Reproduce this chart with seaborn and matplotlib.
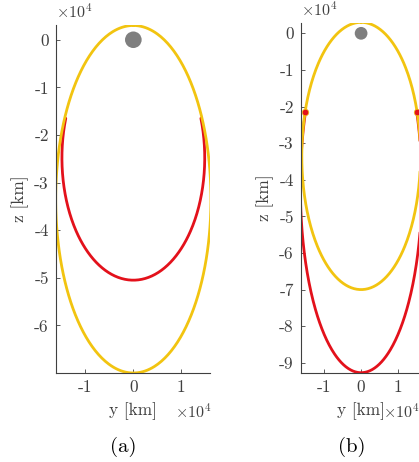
import numpy as np
import pandas as pd
import matplotlib
matplotlib.use("Agg")
import matplotlib.pyplot as plt
from matplotlib.patches import Circle
import seaborn as sns

# ---- data (units of 1e4 km) ----
# ellipse parameters: [centre_y, centre_z, semi_axis_y, semi_axis_z]
yellow_orbit = [0.0, -3.35, 1.62, 3.65]
red_arc_a = [0.0, -2.48, 1.49, 2.57]
red_arc_a_top = -1.65          # z where red arc (a) ends
red_arc_b = [0.0, -4.19, 1.66, 5.08]
red_arc_b_top = -2.15          # z where red arc (b) ends
red_dots_b_y = [-1.52, 1.52]
red_dots_b_z = [-2.15, -2.15]
moon_center = [0.0, 0.0]
moon_radius = 0.1737

xticks_a = [-1, 0, 1]
yticks_a = [0, -1, -2, -3, -4, -5, -6]
xticks_b = [-1, 0, 1]
yticks_b = [0, -1, -2, -3, -4, -5, -6, -7, -8, -9]
xlim_a = (-1.62, 1.60)
ylim_a = (-7.0, 0.31)
xlim_b = (-1.65, 1.65)
ylim_b = (-9.27, 0.29)

YELLOW = "#F2C410"
RED = "#E3111B"
GREY = "#7F7F7F"
TXT = "#404040"


def full_ellipse(p, n=400):
    t = np.linspace(0, 2 * np.pi, n)
    return pd.DataFrame({"y": p[0] + p[2] * np.sin(t), "z": p[1] + p[3] * np.cos(t)})


def lower_arc(p, ztop, n=400):
    t0 = np.arccos((p[1] - ztop) / p[3])
    t = np.linspace(-t0, t0, n)
    return pd.DataFrame({"y": p[0] + p[2] * np.sin(t), "z": p[1] - p[3] * np.cos(t)})


sns.set_theme(style="white")
plt.rcParams.update({
    "font.family": ["cmr10", "DejaVu Serif"],
    "mathtext.fontset": "cm",
    "axes.unicode_minus": False,
    "axes.formatter.use_mathtext": True,
    "xtick.direction": "in",
    "ytick.direction": "in",
    "xtick.major.size": 3,
    "ytick.major.size": 3,
    "xtick.major.width": 0.6,
    "ytick.major.width": 0.6,
    "xtick.color": TXT,
    "ytick.color": TXT,
    "axes.edgecolor": TXT,
    "axes.linewidth": 0.8,
    "xtick.bottom": True,
    "ytick.left": True,
})

W, H = 419, 462
fig = plt.figure(figsize=(W / 100, H / 100), dpi=100)


def px_axes(left, top, right, bottom):
    return fig.add_axes([left / W, 1 - bottom / H, (right - left) / W, (bottom - top) / H])


ax_a = px_axes(55.7, 25.0, 210.0, 373.0)
ax_b = px_axes(300.7, 22.7, 421.5, 372.7)

fs = 12.5

for ax, red, ztop, xl, yl, xt, yt, xr in [
    (ax_a, red_arc_a, red_arc_a_top, xlim_a, ylim_a, xticks_a, yticks_a, 211),
    (ax_b, red_arc_b, red_arc_b_top, xlim_b, ylim_b, xticks_b, yticks_b, 419),
]:
    sns.lineplot(data=lower_arc(red, ztop), x="y", y="z", sort=False, estimator=None,
                 color=RED, lw=2.0, ax=ax)
    sns.lineplot(data=full_ellipse(yellow_orbit), x="y", y="z", sort=False, estimator=None,
                 color=YELLOW, lw=2.0, ax=ax)
    ax.add_patch(Circle(moon_center, moon_radius, color=GREY, zorder=5, lw=0))
    ax.set_xlim(*xl)
    ax.set_ylim(*yl)
    ax.set_xticks(xt)
    ax.set_xticklabels([str(v) for v in xt], fontsize=fs, color=TXT)
    ax.set_yticks(yt)
    ax.set_yticklabels([str(v) for v in yt], fontsize=fs, color=TXT)
    ax.tick_params(axis="both", pad=5)
    for s in ["top", "right"]:
        ax.spines[s].set_visible(False)
    ax.set_xlabel("y [km]", fontsize=fs, color=TXT, labelpad=5)
    ax.set_ylabel("z [km]", fontsize=fs, color=TXT, labelpad=4)
    ax.text(0.005, 1.012, r"$\times10^4$", transform=ax.transAxes, fontsize=fs - 1,
            color=TXT, ha="left", va="bottom")
    fig.text(xr / W, 1 - 411 / H, r"$\times10^4$", fontsize=fs - 1,
             color=TXT, ha="right", va="center")

sns.scatterplot(x=red_dots_b_y, y=red_dots_b_z, color=RED, s=22, edgecolor=YELLOW,
                linewidth=0.5, zorder=6, ax=ax_b)

fig.text(123 / W, 1 - 447 / H, "(a)", fontsize=15, ha="center", va="center", color="black")
fig.text(351.7 / W, 1 - 447 / H, "(b)", fontsize=15, ha="center", va="center", color="black")

fig.savefig("out.png", dpi=100)
